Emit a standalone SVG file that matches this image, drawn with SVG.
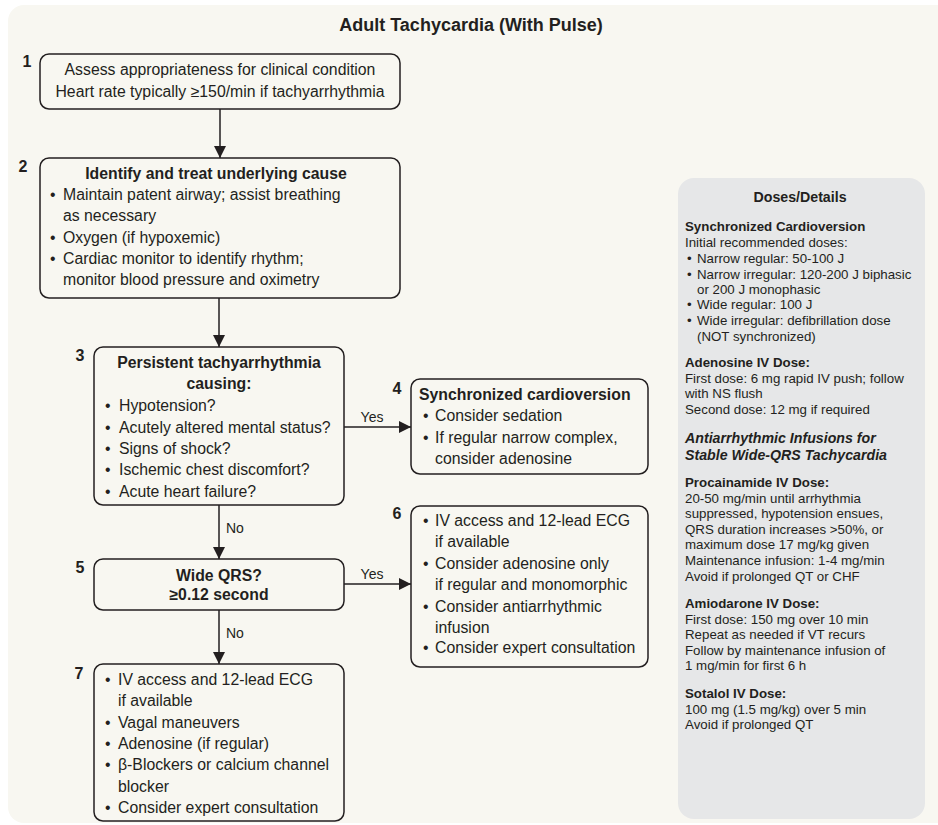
<svg xmlns="http://www.w3.org/2000/svg" width="938" height="825" viewBox="0 0 938 825">
<defs>
<style>
text{font-family:"Liberation Sans",Arial,sans-serif;fill:#231f20;}
.t{font-size:15.8px;}
.b{font-weight:bold;}
.c{text-anchor:middle;}
.n{font-size:16px;font-weight:bold;text-anchor:middle;}
.lbl{font-size:14px;}
.d{font-size:13.3px;}
.box{fill:#f8f7f1;stroke:#231f20;stroke-width:1.5;}
.conn{stroke:#231f20;stroke-width:1.5;fill:none;}
</style>
<marker id="ah" viewBox="0 0 10 10" refX="10" refY="5" markerWidth="13" markerHeight="12" markerUnits="userSpaceOnUse" orient="auto">
<path d="M0,0 L10,5 L0,10 z" fill="#231f20"/>
</marker>
</defs>
<rect x="0" y="0" width="938" height="825" fill="#ffffff"/>
<rect x="8" y="5" width="945" height="818" rx="16" fill="#f8f7f1"/>
<text class="b c" x="471" y="31" style="font-size:18px">Adult Tachycardia (With Pulse)</text>

<g id="connectors">
<line class="conn" x1="220" y1="109" x2="220" y2="158" marker-end="url(#ah)"/>
<line class="conn" x1="219" y1="298" x2="219" y2="347" marker-end="url(#ah)"/>
<line class="conn" x1="344" y1="427" x2="411" y2="427" marker-end="url(#ah)"/>
<text class="lbl c" x="372" y="422">Yes</text>
<line class="conn" x1="219" y1="505" x2="219" y2="559" marker-end="url(#ah)"/>
<text class="lbl" x="226" y="533">No</text>
<line class="conn" x1="344" y1="584" x2="411" y2="584" marker-end="url(#ah)"/>
<text class="lbl c" x="372" y="579">Yes</text>
<line class="conn" x1="219" y1="610" x2="219" y2="664" marker-end="url(#ah)"/>
<text class="lbl" x="226" y="638">No</text>
</g>

<g id="node1">
<text class="n" x="27" y="67">1</text>
<rect class="box" x="40" y="54" width="360" height="55" rx="9"/>
<text class="t c" x="220" y="75">Assess appropriateness for clinical condition</text>
<text class="t c" x="220" y="97">Heart rate typically ≥150/min if tachyarrhythmia</text>
</g>

<g id="node2">
<text class="n" x="23" y="172">2</text>
<rect class="box" x="40" y="158" width="360" height="140" rx="9"/>
<text class="t b c" x="216" y="179">Identify and treat underlying cause</text>
<text class="t" x="50" y="200">•</text><text class="t" x="63" y="200">Maintain patent airway; assist breathing</text>
<text class="t" x="63" y="221">as necessary</text>
<text class="t" x="50" y="243">•</text><text class="t" x="63" y="243">Oxygen (if hypoxemic)</text>
<text class="t" x="50" y="264">•</text><text class="t" x="63" y="264">Cardiac monitor to identify rhythm;</text>
<text class="t" x="63" y="285">monitor blood pressure and oximetry</text>
</g>

<g id="node3">
<text class="n" x="80" y="361">3</text>
<rect class="box" x="94" y="347" width="250" height="158" rx="9"/>
<text class="t b c" x="219" y="368">Persistent tachyarrhythmia</text>
<text class="t b c" x="219" y="389">causing:</text>
<text class="t" x="105" y="411">•</text><text class="t" x="119" y="411">Hypotension?</text>
<text class="t" x="105" y="433">•</text><text class="t" x="119" y="433">Acutely altered mental status?</text>
<text class="t" x="105" y="454">•</text><text class="t" x="119" y="454">Signs of shock?</text>
<text class="t" x="105" y="475">•</text><text class="t" x="119" y="475">Ischemic chest discomfort?</text>
<text class="t" x="105" y="497">•</text><text class="t" x="119" y="497">Acute heart failure?</text>
</g>

<g id="node4">
<text class="n" x="397" y="394">4</text>
<rect class="box" x="411" y="379" width="237" height="95" rx="9"/>
<text class="t b" x="419" y="400">Synchronized cardioversion</text>
<text class="t" x="423" y="421">•</text><text class="t" x="435" y="421">Consider sedation</text>
<text class="t" x="423" y="443">•</text><text class="t" x="435" y="443">If regular narrow complex,</text>
<text class="t" x="435" y="464">consider adenosine</text>
</g>

<g id="node5">
<text class="n" x="80" y="573">5</text>
<rect class="box" x="94" y="559" width="250" height="51" rx="9"/>
<text class="t b c" x="219" y="581">Wide QRS?</text>
<text class="t b c" x="219" y="600">≥0.12 second</text>
</g>

<g id="node6">
<text class="n" x="397" y="519">6</text>
<rect class="box" x="411" y="506" width="237" height="161" rx="9"/>
<text class="t" x="423" y="526">•</text><text class="t" x="435" y="526">IV access and 12-lead ECG</text>
<text class="t" x="435" y="547">if available</text>
<text class="t" x="423" y="569">•</text><text class="t" x="435" y="569">Consider adenosine only</text>
<text class="t" x="435" y="590">if regular and monomorphic</text>
<text class="t" x="423" y="612">•</text><text class="t" x="435" y="612">Consider antiarrhythmic</text>
<text class="t" x="435" y="633">infusion</text>
<text class="t" x="423" y="653">•</text><text class="t" x="435" y="653">Consider expert consultation</text>
</g>

<g id="node7">
<text class="n" x="79" y="679">7</text>
<rect class="box" x="94" y="664" width="250" height="157" rx="9"/>
<text class="t" x="105" y="685">•</text><text class="t" x="118" y="685">IV access and 12-lead ECG</text>
<text class="t" x="118" y="706">if available</text>
<text class="t" x="105" y="728">•</text><text class="t" x="118" y="728">Vagal maneuvers</text>
<text class="t" x="105" y="749">•</text><text class="t" x="118" y="749">Adenosine (if regular)</text>
<text class="t" x="105" y="770">•</text><text class="t" x="118" y="770">β-Blockers or calcium channel</text>
<text class="t" x="118" y="792">blocker</text>
<text class="t" x="105" y="813">•</text><text class="t" x="118" y="813">Consider expert consultation</text>
</g>

<g id="doses">
<rect x="678" y="178" width="247" height="641" rx="16" fill="#e6e7e8"/>
<text class="b c" x="800" y="202" style="font-size:14.2px">Doses/Details</text>
<text class="d b" x="685" y="231">Synchronized Cardioversion</text>
<text class="d" x="685" y="247">Initial recommended doses:</text>
<text class="d" x="687" y="263">•</text><text class="d" x="697" y="263">Narrow regular: 50-100 J</text>
<text class="d" x="687" y="279">•</text><text class="d" x="697" y="279">Narrow irregular: 120-200 J biphasic</text>
<text class="d" x="697" y="294">or 200 J monophasic</text>
<text class="d" x="687" y="309">•</text><text class="d" x="697" y="309">Wide regular: 100 J</text>
<text class="d" x="687" y="325">•</text><text class="d" x="697" y="325">Wide irregular: defibrillation dose</text>
<text class="d" x="697" y="341">(NOT synchronized)</text>
<text class="d b" x="685" y="367">Adenosine IV Dose:</text>
<text class="d" x="685" y="383">First dose: 6 mg rapid IV push; follow</text>
<text class="d" x="685" y="398">with NS flush</text>
<text class="d" x="685" y="414">Second dose: 12 mg if required</text>
<text class="b" x="685" y="443" style="font-size:14.2px;font-style:italic">Antiarrhythmic Infusions for</text>
<text class="b" x="685" y="460" style="font-size:14.2px;font-style:italic">Stable Wide-QRS Tachycardia</text>
<text class="d b" x="685" y="487">Procainamide IV Dose:</text>
<text class="d" x="685" y="503">20-50 mg/min until arrhythmia</text>
<text class="d" x="685" y="518">suppressed, hypotension ensues,</text>
<text class="d" x="685" y="534">QRS duration increases &gt;50%, or</text>
<text class="d" x="685" y="549">maximum dose 17 mg/kg given</text>
<text class="d" x="685" y="565">Maintenance infusion: 1-4 mg/min</text>
<text class="d" x="685" y="581">Avoid if prolonged QT or CHF</text>
<text class="d b" x="685" y="608">Amiodarone IV Dose:</text>
<text class="d" x="685" y="624">First dose: 150 mg over 10 min</text>
<text class="d" x="685" y="639">Repeat as needed if VT recurs</text>
<text class="d" x="685" y="655">Follow by maintenance infusion of</text>
<text class="d" x="685" y="670">1 mg/min for first 6 h</text>
<text class="d b" x="685" y="698">Sotalol IV Dose:</text>
<text class="d" x="685" y="714">100 mg (1.5 mg/kg) over 5 min</text>
<text class="d" x="685" y="729">Avoid if prolonged QT</text>
</g>
</svg>
